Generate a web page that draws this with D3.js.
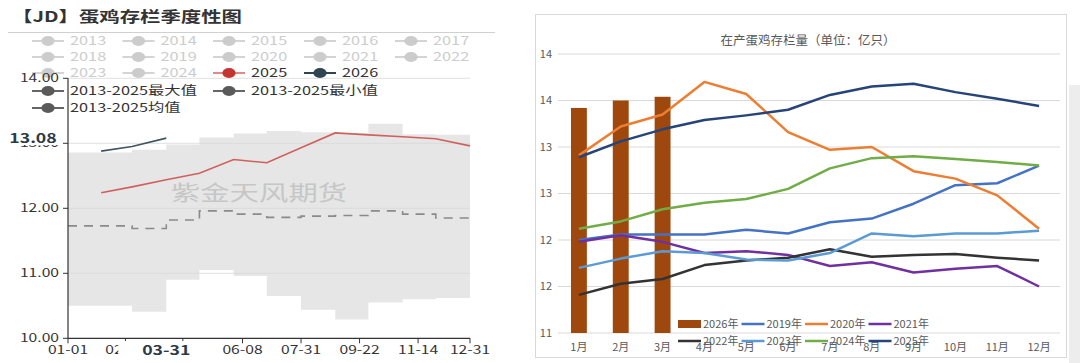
<!DOCTYPE html>
<html><head><meta charset="utf-8">
<script src="https://cdn.jsdelivr.net/npm/d3@7"></script>
<style>
body{margin:0;background:#fff;}
svg{display:block;font-family:"Noto Sans CJK SC","Noto Sans",sans-serif;}
</style>
</head><body>
<svg id="c" width="1080" height="363"></svg>
<script>
// ================= LEFT CHART DATA =================
const leftTitle = "【JD】蛋鸡存栏季度性图";
const legendYears = ["2013","2014","2015","2016","2017","2018","2019","2020","2021","2022","2023","2024","2025","2026"];
const statLabels = ["2013-2025最大值","2013-2025最小值","2013-2025均值"];
const monthEnds = ["01-31","02-28","03-31","04-30","05-31","06-30","07-31","08-31","09-30","10-31","11-30","12-31"];
const maxVals = [12.86,12.86,12.90,12.98,13.09,13.15,13.19,13.17,13.16,13.30,13.14,13.13];
const minVals = [10.50,10.50,10.41,10.90,11.05,10.96,10.65,10.44,10.29,10.55,10.60,10.62];
const avgVals = [11.73,11.73,11.69,11.82,11.96,11.91,11.86,11.88,11.89,11.96,11.91,11.85];
const vals2025 = [12.24,12.33,12.44,12.54,12.75,12.70,12.93,13.16,13.13,13.10,13.07,12.96];
const vals2026 = [12.88,12.95,13.08];
const leftYTicks = [10,11,12,13,14];
const leftXTicks = ["01-01","02-22","04-15","06-08","07-31","09-22","11-14","12-31"];
const hiddenXLabels = ["04-15"]; // covered by the pointer label in the reference
const pointerDate = "03-31";
const pointerValue = "13.08";
const watermark = "紫金天风期货";

// ================= RIGHT CHART DATA =================
const rightTitle = "在产蛋鸡存栏量（单位：亿只）";
const months = ["1月","2月","3月","4月","5月","6月","7月","8月","9月","10月","11月","12月"];
const bars2026 = [13.42,13.50,13.54];
const s2019 = [12.00,12.06,12.06,12.06,12.11,12.07,12.19,12.23,12.39,12.59,12.61,12.80];
const s2020 = [12.91,13.22,13.35,13.70,13.57,13.16,12.97,13.00,12.74,12.66,12.48,12.12];
const s2021 = [11.98,12.05,11.98,11.86,11.88,11.84,11.72,11.76,11.65,11.69,11.72,11.50];
const s2022 = [11.41,11.53,11.58,11.73,11.78,11.81,11.90,11.82,11.84,11.85,11.81,11.78];
const s2023 = [11.70,11.80,11.88,11.86,11.79,11.78,11.86,12.07,12.04,12.07,12.07,12.10];
const s2024 = [12.12,12.20,12.33,12.40,12.44,12.55,12.77,12.88,12.90,12.87,12.84,12.80];
const s2025 = [12.89,13.06,13.19,13.29,13.34,13.40,13.56,13.65,13.68,13.59,13.52,13.44];
const lineNames = ["2019年","2020年","2021年","2022年","2023年","2024年","2025年"];
const barName = "2026年";
const rightYTicks = [11,11.5,12,12.5,13,13.5,14];
const rightYLabels = ["11","12","12","13","13","14","14"];

// ================= DRAW =================
const svg = d3.select("#c");
const SX = 1.36; // horizontal stretch of left panel text

function ltext(g, x, y, str, o) {
  o = o || {};
  return g.append("text")
    .attr("transform", `translate(${x},${y}) scale(${o.sx || SX},1)`)
    .attr("dy", "0.35em")
    .attr("text-anchor", o.anchor || "start")
    .attr("font-size", o.size || 12)
    .attr("font-weight", o.weight || "normal")
    .attr("fill", o.fill || "#333")
    .text(str);
}

// ---------- LEFT ----------
const L = svg.append("g");
const parseMD = s => d3.timeParse("%Y-%m-%d")("2025-" + s);
const lx = d3.scaleTime().domain([parseMD("01-01"), parseMD("12-31")]).range([68, 470]);
const ly = d3.scaleLinear().domain([10, 14]).range([338.3, 78.3]);

// title
L.append("text").attr("x", 12).attr("y", 17).attr("dy", "0.35em")
  .attr("font-size", 15).attr("font-weight", "bold").attr("fill", "#333")
  .attr("textLength", 230).attr("lengthAdjust", "spacingAndGlyphs")
  .text(leftTitle);
L.append("line").attr("x1", 8).attr("x2", 495).attr("y1", 32.5).attr("y2", 32.5)
  .attr("stroke", "#d0d0d0");

// band (step) data
const bandPts = [{d: parseMD("01-01"), max: maxVals[0], min: minVals[0], avg: avgVals[0]}]
  .concat(monthEnds.map((m, i) => ({d: parseMD(m), max: maxVals[i], min: minVals[i], avg: avgVals[i]})));

L.append("path").datum(bandPts)
  .attr("d", d3.area().x(d => lx(d.d)).y0(ly(10)).y1(d => ly(d.max)).curve(d3.curveStepBefore))
  .attr("fill", "#e6e6e6");
L.append("path").datum(bandPts)
  .attr("d", d3.area().x(d => lx(d.d)).y0(ly(10)).y1(d => ly(d.min)).curve(d3.curveStepBefore))
  .attr("fill", "#ffffff");

// gridlines
L.selectAll(".lg").data(leftYTicks.slice(1)).enter().append("line")
  .attr("x1", 68).attr("x2", 470).attr("y1", d => ly(d)).attr("y2", d => ly(d))
  .attr("stroke", "#d9d9d9").attr("stroke-width", 1).attr("opacity", 0.8);

// watermark
ltext(L, 259, 193, watermark, {anchor: "middle", size: 21, fill: "#c6c6c6", sx: 1.4});

// avg dashed
L.append("path").datum(bandPts)
  .attr("d", d3.line().x(d => lx(d.d)).y(d => ly(d.avg)).curve(d3.curveStepBefore))
  .attr("fill", "none").attr("stroke", "#8a8a8a").attr("stroke-width", 1.6)
  .attr("stroke-dasharray", "9,7");

// 2025 and 2026 lines
L.append("path").datum(vals2025)
  .attr("d", d3.line().x((d, i) => lx(parseMD(monthEnds[i]))).y(d => ly(d)))
  .attr("fill", "none").attr("stroke", "#d0605d").attr("stroke-width", 1.6);
L.append("path").datum(vals2026)
  .attr("d", d3.line().x((d, i) => lx(parseMD(monthEnds[i]))).y(d => ly(d)))
  .attr("fill", "none").attr("stroke", "#3f5564").attr("stroke-width", 1.6);

// legend
const legColX = [48, 138.5, 229, 320, 411];
const legRowY = [41, 57, 73];
function legIcon(x, y, lineCol, dotCol) {
  L.append("line").attr("x1", x - 16).attr("x2", x + 16).attr("y1", y).attr("y2", y)
    .attr("stroke", lineCol).attr("stroke-width", 2);
  L.append("ellipse").attr("cx", x).attr("cy", y).attr("rx", 6.6).attr("ry", 5)
    .attr("fill", dotCol);
}
legendYears.forEach((yr, i) => {
  const x = legColX[i % 5], y = legRowY[Math.floor(i / 5)];
  let lc = "#d4d4d4", dc = "#cccccc", tc = "#cccccc";
  if (yr === "2025") { lc = "#e38a88"; dc = "#c23531"; tc = "#333"; }
  if (yr === "2026") { lc = "#2f4554"; dc = "#2f4554"; tc = "#333"; }
  legIcon(x, y, lc, dc);
  ltext(L, x + 22, y, yr, {fill: tc, size: 12});
});
const statPos = [[48, 91], [229, 91], [48, 108]];
statLabels.forEach((s, i) => {
  legIcon(statPos[i][0], statPos[i][1], "#666", "#5a5a5a");
  ltext(L, statPos[i][0] + 22, statPos[i][1], s, {fill: "#333", size: 12});
});

// axes
L.append("line").attr("x1", 68).attr("x2", 68).attr("y1", ly(14)).attr("y2", ly(10))
  .attr("stroke", "#333").attr("stroke-width", 1.2);
L.append("line").attr("x1", 68).attr("x2", 470).attr("y1", ly(10)).attr("y2", ly(10))
  .attr("stroke", "#333").attr("stroke-width", 1.2);
leftYTicks.forEach(v => {
  L.append("line").attr("x1", 63).attr("x2", 68).attr("y1", ly(v)).attr("y2", ly(v))
    .attr("stroke", "#333");
  ltext(L, 59, ly(v), d3.format(".2f")(v), {anchor: "end", size: 11.5, fill: "#333"});
});
leftXTicks.forEach(t => {
  const x = lx(parseMD(t));
  L.append("line").attr("x1", x).attr("x2", x).attr("y1", ly(10)).attr("y2", ly(10) + 5)
    .attr("stroke", "#333");
  if (!hiddenXLabels.includes(t)) ltext(L, x, 350, t, {anchor: "middle", size: 11.5, fill: "#333"});
});
// axis pointer labels
const px = lx(parseMD(pointerDate));
L.append("rect").attr("x", px - 48).attr("y", 341).attr("width", 96).attr("height", 21).attr("fill", "#fff");
ltext(L, px, 350, pointerDate, {anchor: "middle", size: 13, weight: "bold", fill: "#2b3a45"});
const pyv = ly(+pointerValue);
L.append("rect").attr("x", 5).attr("y", pyv - 8).attr("width", 57).attr("height", 15).attr("fill", "#fff").attr("rx", 2);
ltext(L, 33, pyv, pointerValue, {anchor: "middle", size: 13, weight: "bold", fill: "#2b3a45"});

// ---------- RIGHT ----------
const R = svg.append("g");
R.append("rect").attr("x", 535.5).attr("y", 14.5).attr("width", 531).attr("height", 343)
  .attr("fill", "#fff").attr("stroke", "#d9d9d9");
R.append("text").attr("x", 808).attr("y", 41).attr("dy", "0.35em").attr("text-anchor", "middle")
  .attr("font-size", 12.5).attr("fill", "#595959").text(rightTitle);

const rx = d3.scaleBand().domain(months).range([558, 1060]);
const ry = d3.scaleLinear().domain([11, 14]).range([333, 54]);

rightYTicks.forEach((v, i) => {
  R.append("line").attr("x1", 558).attr("x2", 1060).attr("y1", ry(v)).attr("y2", ry(v))
    .attr("stroke", "#d9d9d9");
  R.append("text").attr("x", 552).attr("y", ry(v)).attr("dy", "0.35em").attr("text-anchor", "end")
    .attr("font-size", 11).attr("fill", "#595959").text(rightYLabels[i]);
});
months.forEach(m => {
  R.append("text").attr("x", rx(m) + rx.bandwidth() / 2).attr("y", 347).attr("dy", "0.35em")
    .attr("text-anchor", "middle").attr("font-size", 11).attr("fill", "#595959").text(m);
});

const barColor = "#9e480e";
const bw = rx.bandwidth() * 0.38;
R.selectAll(".bar").data(bars2026).enter().append("rect")
  .attr("x", (d, i) => rx(months[i]) + rx.bandwidth() / 2 - bw / 2)
  .attr("y", d => ry(d)).attr("width", bw).attr("height", d => ry(11) - ry(d))
  .attr("fill", barColor);

const lineSeries = [s2019, s2020, s2021, s2022, s2023, s2024, s2025];
const lineColors = ["#4472c4", "#ed7d31", "#7030a0", "#333333", "#5b9bd5", "#70ad47", "#264478"];
const rline = d3.line().x((d, i) => rx(months[i]) + rx.bandwidth() / 2).y(d => ry(d));
lineSeries.forEach((s, k) => {
  R.append("path").datum(s).attr("d", rline).attr("fill", "none")
    .attr("stroke", lineColors[k]).attr("stroke-width", 2.5).attr("stroke-linejoin", "round");
});

// legend
const legItems = [{n: barName, c: barColor, bar: true}].concat(lineNames.map((n, k) => ({n, c: lineColors[k]})));
legItems.forEach((it, j) => {
  const x = 678 + (j % 4) * 63.5, y = j < 4 ? 324 : 341;
  if (it.bar) {
    R.append("rect").attr("x", x).attr("y", y - 4).attr("width", 23).attr("height", 8).attr("fill", it.c);
  } else {
    R.append("line").attr("x1", x).attr("x2", x + 23).attr("y1", y).attr("y2", y)
      .attr("stroke", it.c).attr("stroke-width", 2.5);
  }
  R.append("text").attr("x", x + 25).attr("y", y).attr("dy", "0.35em")
    .attr("font-size", 11).attr("fill", "#595959").text(it.n);
});

// right-edge scroll strip
svg.append("rect").attr("x", 1069).attr("y", 85).attr("width", 11).attr("height", 278).attr("fill", "#ededed");
</script>
</body></html>
